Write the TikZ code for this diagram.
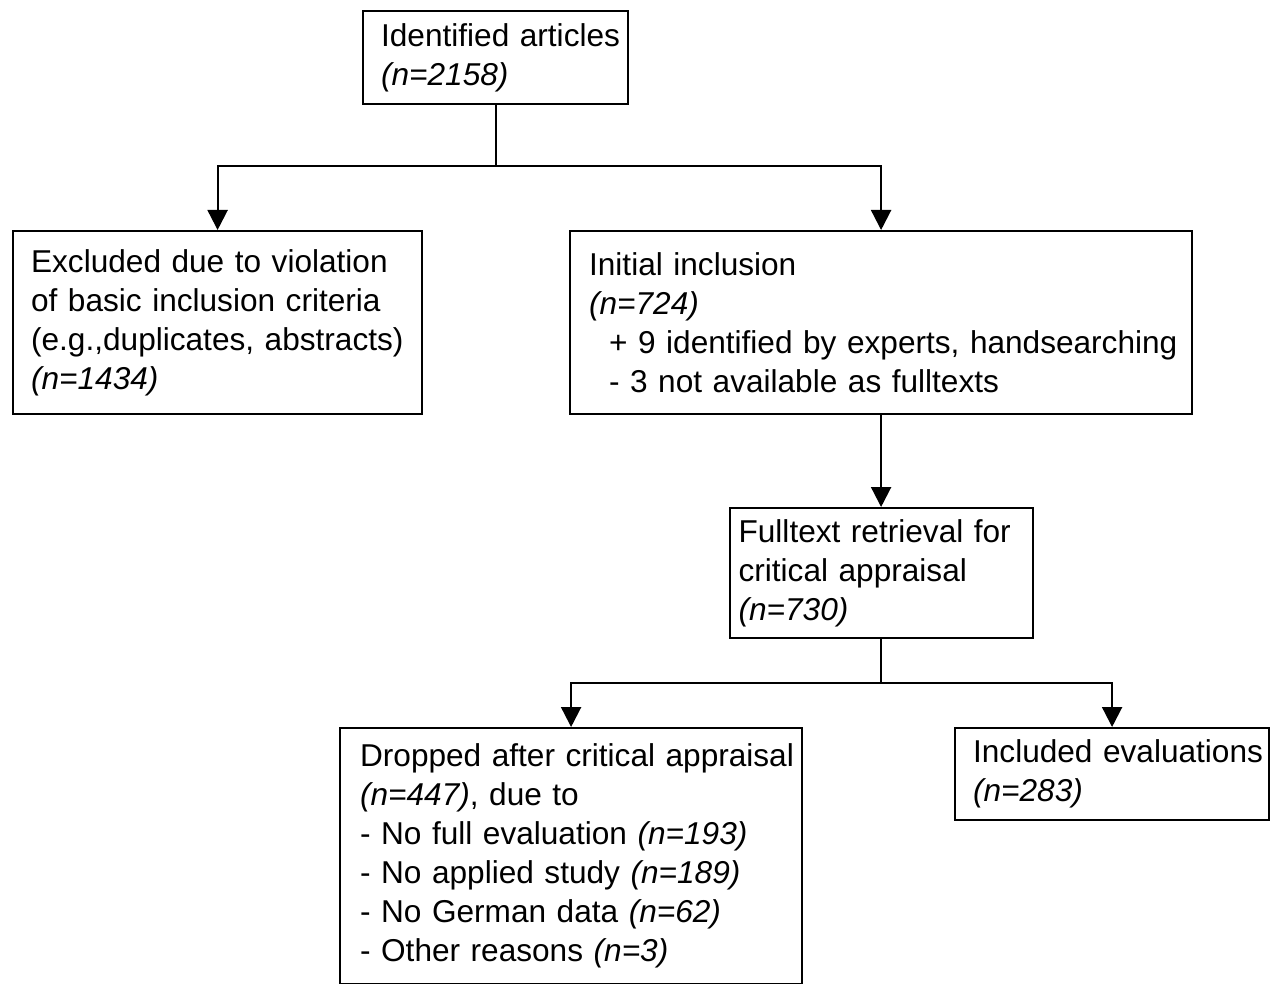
\documentclass[tikz,border=0pt]{standalone}
\usepackage{fontspec}
\setmainfont{Liberation Sans}
\usetikzlibrary{arrows.meta}

\tikzset{
  stage/.style={draw, rectangle, line width=1.1pt, anchor=north west, align=left,
    inner xsep=0pt, inner ysep=0pt, font=\fontsize{15.8}{19.5}\selectfont},
  pad/.style={execute at begin node={\leftskip=#1}},
  link/.style={line width=1.1pt},
  flow/.style={link, -{Triangle[width=10pt,length=10pt]}}
}

\begin{document}
\begin{tikzpicture}[x=0.5pt,y=-0.5pt]
\useasboundingbox (0,0) rectangle (1270,984);
\node[stage, pad=9pt, text width=132.5pt, minimum height=46.5pt] (ident) at (362,10)
  {Identified articles\\\textit{(n=2158)}};
\node[stage, pad=9pt, text width=204.5pt, minimum height=91.5pt] (excl) at (12,230)
  {Excluded due to violation\\of basic inclusion criteria\\(e.g.,duplicates, abstracts)\\\textit{(n=1434)}};
\node[stage, pad=9.5pt, text width=311pt, minimum height=91.5pt] (incl) at (569,230)
  {Initial inclusion\\\textit{(n=724)}\\\hspace*{10pt}+ 9 identified by experts, handsearching\\\hspace*{10pt}- 3 not available as fulltexts};
\node[stage, pad=4.5pt, text width=151.5pt, minimum height=65pt] (full) at (728.5,507)
  {Fulltext retrieval for\\critical appraisal\\\textit{(n=730)}};
\node[stage, pad=10pt, text width=231pt, minimum height=128pt] (drop) at (339,727)
  {Dropped after critical appraisal\\\textit{(n=447)}, due to\\- No full evaluation \textit{(n=193)}\\- No applied study \textit{(n=189)}\\- No German data \textit{(n=62)}\\- Other reasons \textit{(n=3)}};
\node[stage, pad=9pt, text width=157pt, minimum height=46pt] (keep) at (954,727)
  {Included evaluations\\\textit{(n=283)}};

\coordinate (split1) at (ident.south |- 0,166);
\coordinate (split2) at (full.south |- 0,683);
\draw[link] (ident.south) -- (split1);
\draw[flow] (split1) -| (excl.north);
\draw[flow] (split1) -| (incl.north);
\draw[flow] (incl.south) -- (full.north);
\draw[link] (full.south) -- (split2);
\draw[flow] (split2) -| (drop.north);
\draw[flow] (split2) -| (keep.north);
\end{tikzpicture}
\end{document}
